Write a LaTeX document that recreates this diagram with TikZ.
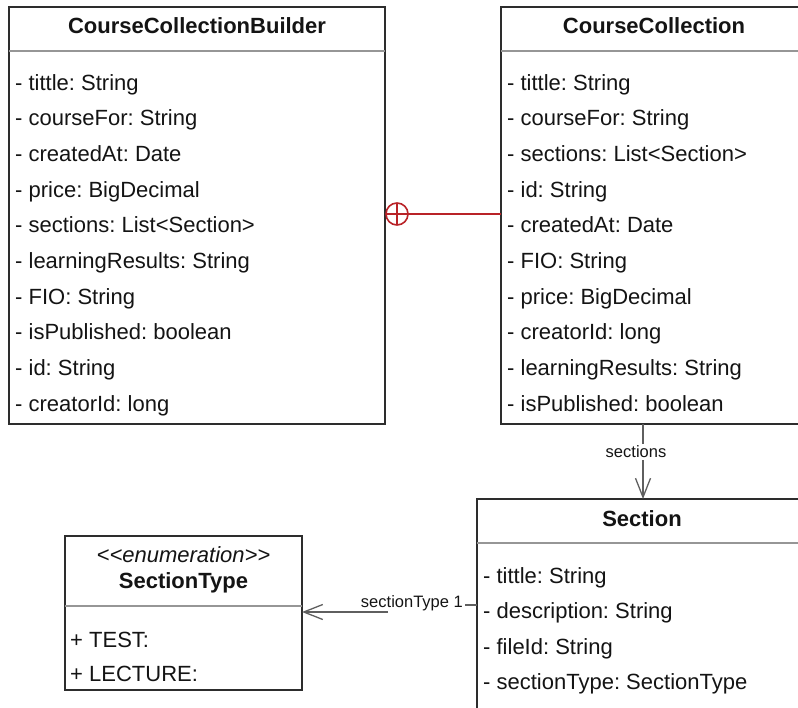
\documentclass[tikz,border=0pt]{standalone}
\usepackage{fontspec}
\setmainfont{Liberation Sans}
\usetikzlibrary{arrows.meta}
\definecolor{boxc}{RGB}{45,45,45}
\definecolor{sepc}{RGB}{150,150,150}
\definecolor{txtc}{RGB}{20,20,20}
\definecolor{redc}{RGB}{185,35,40}
\definecolor{arrc}{RGB}{95,95,95}
\frenchspacing
\tikzset{
  classbox/.style={draw=boxc, line width=1.6pt, fill=white, rectangle, inner sep=0pt, outer sep=0pt, anchor=north west},
  sepline/.style={draw=sepc, line width=1.3pt},
  attr/.style={anchor=base west, inner sep=0pt, text=txtc, font=\fontsize{22}{26}\selectfont},
  ctitle/.style={anchor=base, inner sep=0pt, text=txtc, font=\fontsize{22}{26}\selectfont\bfseries},
  stereo/.style={anchor=base, inner sep=0pt, text=txtc, font=\fontsize{22}{26}\selectfont\itshape},
  lbl/.style={inner sep=0pt, text=txtc, font=\fontsize{16.5}{19}\selectfont},
  assoc/.style={draw=arrc, line width=1.3pt, -{Straight Barb[length=19pt,width=15pt,line width=1.3pt]}},
  nestc/.style={draw=redc, line width=1.6pt, circle, minimum size=22pt, inner sep=0pt, outer sep=0pt},
}
\begin{document}
\begin{tikzpicture}[x=1pt,y=-1pt]
\useasboundingbox (0,0) rectangle (798,707);
\clip (0,0) rectangle (798,707);
% CourseCollectionBuilder
\node[classbox, minimum width=376pt, minimum height=417pt] (ccb) at (9,7) {};
\draw[sepline] (9,51) -- (385,51);
\node[ctitle] (ccbt) at (197,33) {CourseCollectionBuilder};
\foreach \t [count=\i from 0] in {- tittle: String, - courseFor: String, - createdAt: Date, - price: BigDecimal, - sections: List<Section>, - learningResults: String, - FIO: String, - isPublished: boolean, - id: String, - creatorId: long}
  \node[attr] (ccba\i) at (15,90+35.7*\i) {\t};
% CourseCollection
\node[classbox, minimum width=307pt, minimum height=417pt] (cc) at (501,7) {};
\draw[sepline] (501,51) -- (808,51);
\node[ctitle] (cct) at (654,33) {CourseCollection};
\foreach \t [count=\i from 0] in {- tittle: String, - courseFor: String, - sections: List<Section>, - id: String, - createdAt: Date, - FIO: String, - price: BigDecimal, - creatorId: long, - learningResults: String, - isPublished: boolean}
  \node[attr] (cca\i) at (507,90+35.7*\i) {\t};
% Section
\node[classbox, minimum width=331pt, minimum height=240pt] (sec) at (477,499) {};
\draw[sepline] (477,543) -- (808,543);
\node[ctitle] (sect) at (642,526) {Section};
\foreach \t [count=\i from 0] in {- tittle: String, - description: String, - fileId: String, - sectionType: SectionType}
  \node[attr] (seca\i) at (483,583+35.5*\i) {\t};
% SectionType
\node[classbox, minimum width=237pt, minimum height=154pt] (st) at (65,536) {};
\draw[sepline] (65,606) -- (302,606);
\node[stereo] (sts) at (183.5,562) {{<}{<}enumeration{>}{>}};
\node[ctitle] (stt) at (183.5,588) {SectionType};
\node[attr] (sta0) at (70,647) {+ TEST:};
\node[attr] (sta1) at (70,681) {+ LECTURE:};
% nesting connector
\node[nestc] (nest) at (397,214) {};
\draw[redc, line width=1.6pt] (nest.west) -- (nest.east);
\draw[redc, line width=1.6pt] (nest.north) -- (nest.south);
\draw[redc, line width=1.6pt] (nest.east) -- (cc.west |- nest);
% sections association
\coordinate (csrc) at (643,424);
\draw[assoc] (csrc) -- (csrc |- sec.north);
\node[lbl, fill=white, inner sep=1.5pt] (lsec) at (636,452) {sections};
% sectionType association
\coordinate (s1) at (477,605);
\coordinate (s2) at (465,605);
\coordinate (s3) at (388,612);
\draw[arrc, line width=1.3pt] (s1) -- (s2);
\draw[assoc] (s3) -- (st.east |- s3);
\node[lbl, anchor=base east] (lst) at (463,607) {sectionType 1};
\end{tikzpicture}
\end{document}
